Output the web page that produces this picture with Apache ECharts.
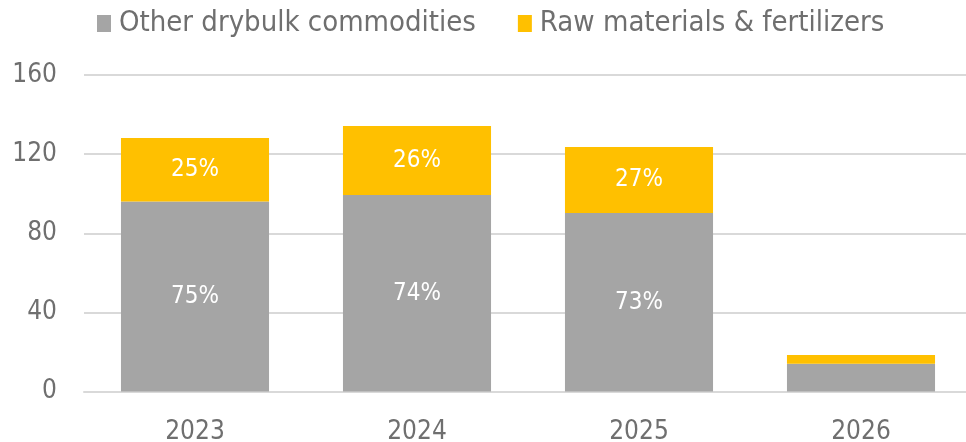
<!DOCTYPE html>
<html>
<head>
<meta charset="utf-8">
<script src="https://cdn.jsdelivr.net/npm/echarts@6/dist/echarts.min.js"></script>
<style>
  html, body { margin: 0; padding: 0; background: #fff; }
  #chart { width: 966px; height: 442px; }
</style>
</head>
<body>
<div id="chart"></div>
<script>
const years = ['2023', '2024', '2025', '2026']
const otherDrybulk = [96, 99.3, 90.2, 14]
const rawMaterials = [32.2, 34.9, 33.4, 4.5]
const yTicks = [0, 40, 80, 120, 160]

const font = 'DejaVu Sans Condensed'
const textColor = '#6f6f6f'

function pctLabel(params) {
  const i = params.dataIndex
  const total = otherDrybulk[i] + rawMaterials[i]
  if (total < 30) return ''
  return Math.round(params.value / total * 100) + '%'
}

const chart = echarts.init(document.getElementById('chart'))

chart.setOption({
  animation: false,
  textStyle: { fontFamily: font },
  legend: {
    top: 4,
    left: 92,
    itemWidth: 14,
    itemHeight: 17,
    itemGap: 42,
    icon: 'rect',
    textStyle: { fontSize: 29, color: textColor, fontFamily: font, padding: [0, 0, 0, 3] },
    data: ['Other drybulk commodities', 'Raw materials & fertilizers']
  },
  grid: {
    left: 84,
    width: 888,
    top: 75,
    bottom: 50.5,
    outerBoundsMode: 'none',
    containLabel: false
  },
  xAxis: {
    type: 'category',
    data: years,
    axisLine: { show: true, lineStyle: { color: '#d9d9d9', width: 2 } },
    axisTick: { show: false },
    axisLabel: { color: textColor, fontSize: 26, margin: 28, fontFamily: font }
  },
  yAxis: {
    type: 'value',
    min: yTicks[0],
    max: yTicks[yTicks.length - 1],
    interval: 40,
    axisLine: { show: false },
    axisTick: { show: false },
    axisLabel: { color: textColor, fontSize: 26, margin: 27, fontFamily: font },
    splitLine: { lineStyle: { color: '#d9d9d9', width: 2 } }
  },
  series: [
    {
      name: 'Other drybulk commodities',
      type: 'bar',
      stack: 'total',
      barCategoryGap: '33.3%',
      itemStyle: { color: '#a5a5a5' },
      label: {
        show: true,
        position: 'inside',
        color: '#fff',
        fontSize: 24,
        fontFamily: font,
        formatter: pctLabel
      },
      data: otherDrybulk
    },
    {
      name: 'Raw materials & fertilizers',
      type: 'bar',
      stack: 'total',
      itemStyle: { color: '#ffc000' },
      label: {
        show: true,
        position: 'inside',
        color: '#fff',
        fontSize: 24,
        fontFamily: font,
        formatter: pctLabel
      },
      data: rawMaterials
    }
  ]
})
</script>
</body>
</html>
